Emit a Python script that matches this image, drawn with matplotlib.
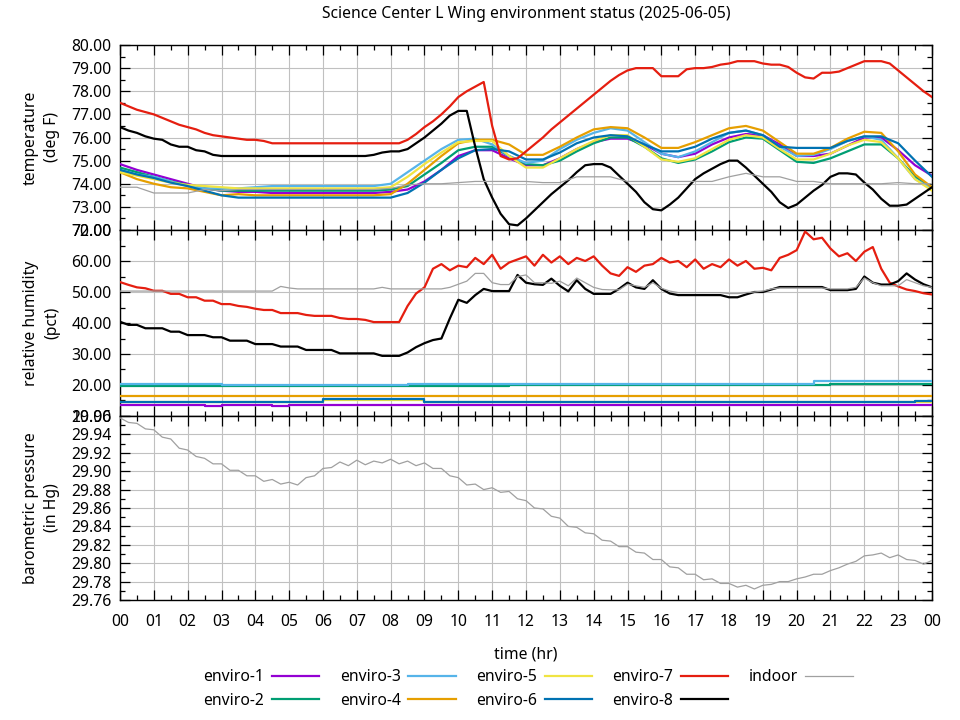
import numpy as np
import matplotlib
matplotlib.use('Agg')
import matplotlib.pyplot as plt
from matplotlib.ticker import MultipleLocator, FormatStrFormatter, FixedLocator, FixedFormatter

FS = 11.3
plt.rcParams['font.family'] = ['Noto Sans', 'DejaVu Sans']
plt.rcParams['font.size'] = FS

TITLE = "Science Center L Wing environment status (2025-06-05)"
SERIES = ["enviro-1", "enviro-2", "enviro-3", "enviro-4", "enviro-5",
          "enviro-6", "enviro-7", "enviro-8", "indoor"]
COLORS = ["#9400d3", "#009e73", "#56b4e9", "#e69f00", "#f0e442",
          "#0072b2", "#e51e10", "#000000", "#a0a0a0"]
HOUR_LABELS = ["00", "01", "02", "03", "04", "05", "06", "07", "08", "09", "10", "11",
               "12", "13", "14", "15", "16", "17", "18", "19", "20", "21", "22", "23", "00"]

# sample times (hours)
T_HALF = np.arange(49) * 0.5      # every 30 min
T_QTR = np.arange(97) * 0.25      # every 15 min

# ---------------- temperature (deg F) ----------------
temp_e1 = [74.85, 74.60, 74.40, 74.20, 74.00, 73.80, 73.70, 73.65,
           73.65, 73.60, 73.60, 73.60, 73.60, 73.60, 73.60, 73.60,
           73.65, 73.75, 74.10, 74.60, 75.20, 75.45, 75.45, 75.10,
           74.80, 74.80, 75.10, 75.50, 75.80, 75.95, 75.95, 75.70,
           75.30, 75.15, 75.30, 75.70, 76.00, 76.15, 76.10, 75.70,
           75.20, 75.20, 75.30, 75.65, 76.00, 76.00, 75.45, 74.80, 74.35]
temp_e2 = [74.70, 74.50, 74.30, 74.10, 73.95, 73.80, 73.70, 73.70,
           73.70, 73.70, 73.70, 73.70, 73.70, 73.70, 73.70, 73.70,
           73.75, 73.90, 74.40, 74.90, 75.45, 75.60, 75.60, 75.20,
           74.85, 74.80, 75.00, 75.40, 75.75, 76.00, 76.00, 75.60,
           75.10, 74.90, 75.05, 75.40, 75.80, 76.00, 75.95, 75.45,
           74.95, 74.90, 75.10, 75.40, 75.70, 75.70, 75.10, 74.30, 73.85]
temp_e3 = [74.60, 74.40, 74.30, 74.10, 73.90, 73.80, 73.80, 73.80,
           73.85, 73.90, 73.90, 73.90, 73.90, 73.90, 73.90, 73.90,
           74.00, 74.50, 75.00, 75.50, 75.90, 75.95, 75.70, 75.20,
           74.90, 75.00, 75.50, 75.90, 76.20, 76.40, 76.30, 75.80,
           75.30, 75.15, 75.40, 75.80, 76.20, 76.30, 76.10, 75.60,
           75.20, 75.25, 75.50, 75.85, 76.05, 75.90, 75.10, 74.20, 73.80]
temp_e4 = [74.50, 74.20, 74.00, 73.85, 73.80, 73.65, 73.50, 73.55,
           73.50, 73.50, 73.50, 73.50, 73.50, 73.50, 73.50, 73.50,
           73.55, 74.00, 74.60, 75.20, 75.75, 75.90, 75.90, 75.70,
           75.25, 75.25, 75.60, 76.00, 76.35, 76.45, 76.40, 76.00,
           75.55, 75.55, 75.80, 76.10, 76.40, 76.50, 76.30, 75.80,
           75.30, 75.30, 75.55, 75.95, 76.25, 76.20, 75.40, 74.40, 73.85]
temp_e5 = [74.50, 74.35, 74.20, 74.05, 73.95, 73.90, 73.85, 73.80,
           73.80, 73.80, 73.80, 73.80, 73.80, 73.80, 73.80, 73.80,
           73.85, 74.30, 74.85, 75.35, 75.80, 75.85, 75.85, 75.20,
           74.70, 74.70, 75.10, 75.50, 75.85, 76.10, 76.10, 75.60,
           75.05, 74.95, 75.10, 75.50, 75.90, 76.10, 76.00, 75.50,
           75.05, 75.05, 75.30, 75.65, 75.90, 75.80, 75.10, 74.20, 73.70]
temp_e6 = [74.60, 74.40, 74.25, 74.05, 73.90, 73.70, 73.50, 73.40,
           73.40, 73.40, 73.40, 73.40, 73.40, 73.40, 73.40, 73.40,
           73.40, 73.60, 74.05, 74.60, 75.10, 75.45, 75.50, 75.40,
           75.05, 75.05, 75.35, 75.75, 76.00, 76.10, 76.05, 75.70,
           75.40, 75.40, 75.60, 75.95, 76.20, 76.30, 76.10, 75.60,
           75.55, 75.55, 75.55, 75.85, 76.05, 76.05, 75.75, 75.00, 74.30]
temp_in = [73.85, 73.85, 73.60, 73.60, 73.60, 73.75, 73.70, 73.75,
           73.75, 73.75, 73.75, 73.75, 73.75, 73.75, 73.75, 73.75,
           73.80, 73.95, 74.00, 74.00, 74.05, 74.10, 74.10, 74.10,
           74.10, 74.05, 74.05, 74.30, 74.30, 74.30, 74.10, 74.10,
           74.10, 74.10, 74.10, 74.10, 74.30, 74.45, 74.30, 74.30,
           74.10, 74.10, 74.00, 74.00, 74.00, 74.00, 74.05, 74.00, 74.00]
temp_e7 = [77.50, 77.35, 77.20, 77.10, 77.00, 76.85, 76.70, 76.55,
           76.45, 76.35, 76.20, 76.10, 76.05, 76.00, 75.95, 75.90,
           75.90, 75.85, 75.75, 75.75, 75.75, 75.75, 75.75, 75.75,
           75.75, 75.75, 75.75, 75.75, 75.75, 75.75, 75.75, 75.75,
           75.75, 75.75, 75.90, 76.15, 76.45, 76.70, 77.00, 77.35,
           77.75, 78.00, 78.20, 78.40, 76.50, 75.20, 75.05, 75.10,
           75.40, 75.70, 76.00, 76.35, 76.65, 76.95, 77.25, 77.55,
           77.85, 78.15, 78.45, 78.70, 78.90, 79.00, 79.00, 79.00,
           78.65, 78.65, 78.65, 78.95, 79.00, 79.00, 79.05, 79.15,
           79.20, 79.30, 79.30, 79.30, 79.20, 79.15, 79.15, 79.05,
           78.80, 78.60, 78.55, 78.80, 78.80, 78.85, 79.00, 79.15,
           79.30, 79.30, 79.30, 79.20, 78.90, 78.60, 78.30, 78.00, 77.75]
temp_e8 = [76.45, 76.30, 76.20, 76.05, 75.95, 75.90, 75.70, 75.60,
           75.60, 75.45, 75.40, 75.25, 75.20, 75.20, 75.20, 75.20,
           75.20, 75.20, 75.20, 75.20, 75.20, 75.20, 75.20, 75.20,
           75.20, 75.20, 75.20, 75.20, 75.20, 75.20, 75.25, 75.35,
           75.40, 75.40, 75.50, 75.75, 76.00, 76.30, 76.60, 76.95,
           77.15, 77.15, 75.60, 74.20, 73.40, 72.70, 72.25, 72.20,
           72.50, 72.85, 73.20, 73.55, 73.85, 74.15, 74.50, 74.80,
           74.85, 74.85, 74.70, 74.35, 74.00, 73.65, 73.20, 72.90,
           72.85, 73.10, 73.40, 73.80, 74.20, 74.45, 74.65, 74.85,
           75.00, 75.00, 74.70, 74.35, 74.00, 73.65, 73.20, 72.95,
           73.10, 73.40, 73.70, 73.95, 74.30, 74.45, 74.45, 74.40,
           74.05, 73.75, 73.35, 73.05, 73.05, 73.10, 73.35, 73.60, 73.85]

# ---------------- relative humidity (pct) ----------------
rh_e1 = [13.5, 13.5, 13.5, 13.5, 13.4, 13.3, 13.5, 13.5,
         13.4, 13.3, 13.5, 13.5, 13.5, 13.5, 13.5, 13.5,
         13.5, 13.5, 13.4, 13.4, 13.4, 13.4, 13.4, 13.4,
         13.4, 13.4, 13.4, 13.4, 13.5, 13.4, 13.4, 13.4,
         13.4, 13.4, 13.4, 13.4, 13.4, 13.4, 13.4, 13.4,
         13.4, 13.4, 13.4, 13.4, 13.4, 13.4, 13.4, 13.6, 13.6]
rh_e2 = [19.8, 19.8, 19.8, 19.8, 19.8, 19.8, 19.8, 19.8,
         19.8, 19.8, 19.8, 19.8, 19.8, 19.8, 19.8, 19.8,
         19.8, 19.8, 19.8, 19.8, 19.8, 19.8, 19.8, 20.1,
         20.1, 20.1, 20.1, 20.1, 20.1, 20.1, 20.1, 20.1,
         20.1, 20.1, 20.1, 20.1, 20.1, 20.1, 20.1, 20.1,
         20.1, 20.1, 20.2, 20.2, 20.2, 20.2, 20.2, 20.2, 20.2]
rh_e3 = [20.3, 20.3, 20.3, 20.3, 20.3, 20.3, 19.9, 19.9,
         19.9, 19.9, 19.9, 19.9, 19.9, 19.9, 19.9, 19.9,
         19.9, 20.2, 20.2, 20.2, 20.2, 20.2, 20.2, 20.2,
         20.2, 20.2, 20.2, 20.2, 20.2, 20.2, 20.2, 20.2,
         20.2, 20.2, 20.2, 20.2, 20.2, 20.2, 20.2, 20.2,
         20.2, 21.2, 21.2, 21.2, 21.2, 21.2, 21.2, 21.2, 21.2]
rh_e4 = [16.4, 16.4, 16.4, 16.4, 16.4, 16.4, 16.4, 16.4,
         16.4, 16.4, 16.4, 16.4, 16.4, 16.4, 16.4, 16.4,
         16.4, 16.4, 16.4, 16.4, 16.4, 16.4, 16.4, 16.4,
         16.4, 16.4, 16.4, 16.4, 16.4, 16.4, 16.4, 16.4,
         16.4, 16.4, 16.4, 16.4, 16.4, 16.4, 16.4, 16.4,
         16.4, 16.4, 16.4, 16.4, 16.4, 16.4, 16.4, 16.4, 16.4]
rh_e5 = [14.4, 14.4, 14.4, 14.4, 14.4, 14.4, 14.4, 14.4,
         14.4, 14.4, 14.4, 14.4, 15.0, 15.0, 15.0, 15.0,
         15.0, 15.0, 14.4, 14.4, 14.4, 14.4, 14.4, 14.4,
         14.4, 14.4, 14.4, 14.4, 14.4, 14.4, 14.4, 14.4,
         14.4, 14.4, 14.4, 14.4, 14.4, 14.4, 14.4, 14.4,
         14.4, 14.4, 14.4, 14.4, 14.4, 14.4, 14.4, 14.4, 14.4]
rh_e6 = [14.5, 14.5, 14.5, 14.5, 14.5, 14.5, 14.5, 14.5,
         14.5, 14.5, 14.5, 14.5, 15.4, 15.4, 15.4, 15.4,
         15.4, 15.4, 14.5, 14.5, 14.5, 14.5, 14.5, 14.5,
         14.5, 14.5, 14.5, 14.5, 14.5, 14.5, 14.5, 14.5,
         14.5, 14.5, 14.5, 14.5, 14.5, 14.5, 14.5, 14.5,
         14.5, 14.5, 14.5, 14.5, 14.5, 14.5, 14.6, 14.7, 14.7]
rh_e7 = [53.2, 52.3, 51.5, 51.2, 50.4, 50.4, 49.4, 49.4,
         48.3, 48.3, 47.2, 47.2, 46.1, 46.1, 45.5, 45.2,
         44.6, 44.2, 44.2, 43.2, 43.2, 43.2, 42.6, 42.3,
         42.3, 42.3, 41.6, 41.3, 41.3, 41.0, 40.3, 40.3,
         40.3, 40.3, 45.5, 49.5, 51.5, 57.5, 59.0, 57.0,
         58.5, 58.0, 61.0, 59.0, 62.0, 57.5, 59.5, 60.5,
         61.5, 58.5, 62.0, 59.5, 61.5, 59.0, 61.0, 60.0,
         61.5, 58.5, 56.0, 55.2, 58.0, 56.5, 58.5, 59.0,
         61.0, 59.5, 60.0, 58.0, 60.5, 57.5, 59.0, 58.0,
         60.5, 58.5, 60.0, 57.5, 57.8, 57.0, 61.0, 62.0,
         63.5, 69.5, 67.0, 67.5, 64.0, 61.5, 62.5, 60.0,
         63.0, 64.5, 57.5, 53.0, 51.8, 50.8, 50.3, 49.6, 49.2]
rh_e8 = [40.4, 39.4, 39.4, 38.3, 38.3, 38.3, 37.2, 37.2,
         36.1, 36.1, 36.1, 35.4, 35.4, 34.3, 34.3, 34.3,
         33.2, 33.2, 33.2, 32.4, 32.4, 32.4, 31.3, 31.3,
         31.3, 31.3, 30.2, 30.2, 30.2, 30.2, 30.2, 29.4,
         29.4, 29.4, 30.5, 32.2, 33.5, 34.5, 35.0, 41.5,
         47.5, 46.5, 49.0, 51.0, 50.3, 50.3, 50.3, 55.5,
         53.0, 52.5, 52.3, 54.3, 52.0, 50.2, 53.8, 51.0,
         49.4, 49.4, 49.4, 51.0, 53.0, 51.5, 51.0, 53.8,
         51.0, 49.5, 49.0, 49.0, 49.0, 49.0, 49.0, 49.0,
         48.3, 48.3, 49.2, 50.0, 50.0, 50.8, 51.6, 51.6,
         51.6, 51.6, 51.6, 51.6, 50.6, 50.6, 50.6, 51.0,
         55.0, 53.0, 52.4, 52.4, 53.5, 56.0, 54.0, 52.5, 51.5]
rh_in = [50.3, 50.3, 50.3, 50.3, 50.3, 50.3, 50.3, 50.3,
         50.3, 50.3, 50.3, 50.3, 50.3, 50.3, 50.3, 50.3,
         50.3, 50.3, 50.3, 51.8, 51.3, 51.0, 51.0, 51.0,
         51.0, 51.0, 51.0, 51.0, 51.0, 51.0, 51.0, 51.5,
         51.0, 51.0, 51.0, 51.0, 51.0, 51.0, 51.0, 51.5,
         52.5, 53.5, 56.0, 56.0, 53.0, 52.4, 52.4, 55.0,
         55.5, 53.0, 53.0, 52.8, 53.5, 52.0, 54.5, 53.0,
         51.5, 50.8, 50.7, 50.7, 52.5, 52.0, 51.5, 53.0,
         51.2, 50.3, 49.8, 49.8, 49.8, 49.8, 49.8, 49.8,
         49.5, 49.5, 49.8, 50.0, 50.3, 51.0, 51.3, 51.3,
         51.3, 51.3, 51.3, 51.3, 51.0, 51.0, 51.0, 51.5,
         54.5, 53.0, 52.0, 52.0, 52.0, 54.0, 53.0, 52.0, 51.5]

# ---------------- barometric pressure (in Hg), indoor ----------------
pres_in = [29.958, 29.953, 29.952, 29.946, 29.945, 29.937, 29.935, 29.925,
           29.923, 29.916, 29.914, 29.908, 29.908, 29.901, 29.901, 29.895,
           29.895, 29.889, 29.891, 29.886, 29.888, 29.885, 29.893, 29.895,
           29.903, 29.904, 29.910, 29.906, 29.912, 29.907, 29.911, 29.909,
           29.913, 29.908, 29.911, 29.906, 29.909, 29.903, 29.903, 29.895,
           29.893, 29.885, 29.886, 29.880, 29.882, 29.877, 29.878, 29.870,
           29.868, 29.860, 29.859, 29.851, 29.849, 29.840, 29.839, 29.833,
           29.832, 29.825, 29.824, 29.818, 29.818, 29.812, 29.811, 29.804,
           29.804, 29.796, 29.795, 29.788, 29.788, 29.782, 29.783, 29.778,
           29.778, 29.774, 29.776, 29.772, 29.776, 29.777, 29.780, 29.780,
           29.783, 29.785, 29.788, 29.788, 29.792, 29.795, 29.799, 29.802,
           29.808, 29.809, 29.811, 29.806, 29.809, 29.804, 29.803, 29.799, 29.803]

temp_series = [(T_HALF, temp_e1), (T_HALF, temp_e2), (T_HALF, temp_e3), (T_HALF, temp_e4),
               (T_HALF, temp_e5), (T_HALF, temp_e6), (T_QTR, temp_e7), (T_QTR, temp_e8),
               (T_HALF, temp_in)]
rh_series = [(T_HALF, rh_e1), (T_HALF, rh_e2), (T_HALF, rh_e3), (T_HALF, rh_e4),
             (T_HALF, rh_e5), (T_HALF, rh_e6), (T_QTR, rh_e7), (T_QTR, rh_e8),
             (T_QTR, rh_in)]

fig = plt.figure(figsize=(9.6, 7.2), dpi=100)
L, R = 120 / 960, 932 / 960
def fy(px):
    return 1 - px / 720

ax_t = fig.add_axes([L, fy(230), R - L, fy(45) - fy(230)])
ax_h = fig.add_axes([L, fy(416), R - L, fy(230) - fy(416)])
ax_p = fig.add_axes([L, fy(600), R - L, fy(416) - fy(600)])

handles = []
for (tt, vv), name, col in zip(temp_series, SERIES, COLORS):
    lw = 0.9 if name == "indoor" else 1.6
    ln, = ax_t.plot(tt, vv, color=col, lw=lw, label=name, zorder=3)
    handles.append(ln)

for (tt, vv), name, col in zip(rh_series, SERIES, COLORS):
    lw = 0.9 if name == "indoor" else 1.6
    ds = 'steps-post' if tt is T_HALF else 'default'
    ax_h.plot(tt, vv, color=col, lw=lw, drawstyle=ds, zorder=3)

ax_p.plot(T_QTR, pres_in, color=COLORS[-1], lw=0.9, zorder=3)

configs = [
    (ax_t, 72, 80, 1, 0.5, "temperature\n(deg F)"),
    (ax_h, 10, 70, 10, 5, "relative humidity\n(pct)"),
    (ax_p, 29.76, 29.96, 0.02, 0.01, "barometric pressure\n(in Hg)"),
]
for ax, lo, hi, maj, mnr, lab in configs:
    ax.set_xlim(0, 24)
    ax.set_ylim(lo, hi)
    ax.xaxis.set_major_locator(FixedLocator(list(range(25))))
    ax.xaxis.set_minor_locator(MultipleLocator(0.5))
    ax.yaxis.set_major_locator(MultipleLocator(maj))
    ax.yaxis.set_minor_locator(MultipleLocator(mnr))
    ax.yaxis.set_major_formatter(FormatStrFormatter('%.2f'))
    ax.tick_params(which='both', direction='in', top=True, right=True, colors='black')
    ax.tick_params(which='major', length=7, width=0.9)
    ax.tick_params(which='minor', length=3.5, width=0.9)
    ax.tick_params(axis='y', which='major', pad=6, labelsize=FS)
    ax.grid(True, which='major', color='#c0c0c0', lw=0.8, zorder=0)
    ax.set_axisbelow(True)
    for sp in ax.spines.values():
        sp.set_color('black')
        sp.set_linewidth(1.0)
    ax.set_ylabel(lab, linespacing=1.4, fontsize=FS)
    ax.yaxis.set_label_coords(-0.074, 0.5)
    if ax is ax_p:
        ax.xaxis.set_major_formatter(FixedFormatter(HOUR_LABELS))
        ax.tick_params(axis='x', which='major', pad=10, labelsize=FS)
    else:
        ax.tick_params(axis='x', labelbottom=False)

ax_p.set_xlabel("time (hr)", fontsize=FS, labelpad=12)

fig.text(526 / 960, fy(14), TITLE, ha='center', va='center', fontsize=FS)

fig.legend(handles, SERIES, loc='center', bbox_to_anchor=(528 / 960, fy(689)), ncol=5,
           markerfirst=False, frameon=False, handlelength=3.0, handletextpad=0.5,
           columnspacing=1.3, labelspacing=0.45, fontsize=FS)

fig.savefig("out.png", dpi=100)
